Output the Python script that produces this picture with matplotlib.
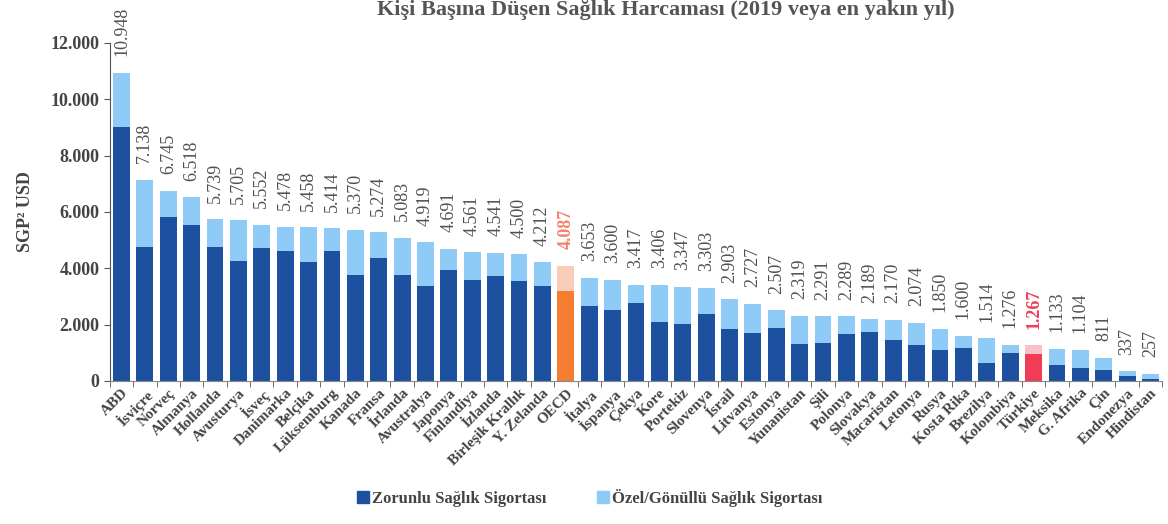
import numpy as np
import matplotlib.pyplot as plt
from matplotlib.patches import Patch

plt.rcParams['font.family'] = ['Liberation Serif', 'DejaVu Serif']

# Ülkeler ve değerler (SGP USD, kişi başına)
ulkeler = ['ABD', 'İsviçre', 'Norveç', 'Almanya', 'Hollanda', 'Avusturya', 'İsveç',
           'Danimarka', 'Belçika', 'Lüksemburg', 'Kanada', 'Fransa', 'İrlanda',
           'Avustralya', 'Japonya', 'Finlandiya', 'İzlanda', 'Birleşik Krallık',
           'Y. Zelanda', 'OECD', 'İtalya', 'İspanya', 'Çekya', 'Kore', 'Portekiz',
           'Slovenya', 'İsrail', 'Litvanya', 'Estonya', 'Yunanistan', 'Şili',
           'Polonya', 'Slovakya', 'Macaristan', 'Letonya', 'Rusya', 'Kosta Rika',
           'Brezilya', 'Kolombiya', 'Türkiye', 'Meksika', 'G. Afrika', 'Çin',
           'Endonezya', 'Hindistan']

toplam = [10948, 7138, 6745, 6518, 5739, 5705, 5552, 5478, 5458, 5414, 5370, 5274,
          5083, 4919, 4691, 4561, 4541, 4500, 4212, 4087, 3653, 3600, 3417, 3406,
          3347, 3303, 2903, 2727, 2507, 2319, 2291, 2289, 2189, 2170, 2074, 1850,
          1600, 1514, 1276, 1267, 1133, 1104, 811, 337, 257]

zorunlu = [9030, 4740, 5820, 5550, 4770, 4270, 4730, 4610, 4240, 4630, 3760, 4370,
           3760, 3380, 3930, 3590, 3720, 3560, 3380, 3180, 2650, 2510, 2770, 2090,
           2020, 2390, 1860, 1710, 1880, 1310, 1330, 1680, 1740, 1460, 1260, 1100,
           1180, 620, 980, 950, 570, 450, 400, 170, 80]

toplam = np.array(toplam)
zorunlu = np.array(zorunlu)
ozel = toplam - zorunlu

# renkler
koyu = ['#1e50a0'] * len(ulkeler)
acik = ['#8ecbf6'] * len(ulkeler)
etiket_renk = ['#505050'] * len(ulkeler)
i_oecd = ulkeler.index('OECD')
i_tr = ulkeler.index('Türkiye')
koyu[i_oecd], acik[i_oecd], etiket_renk[i_oecd] = '#f57d32', '#f9cdb8', '#f4826e'
koyu[i_tr], acik[i_tr], etiket_renk[i_tr] = '#f03c55', '#f8bfc8', '#ee3e5a'

fig = plt.figure(figsize=(11.68, 5.24), dpi=100)
ax = fig.add_axes([0.094, 0.273, 0.901, 0.645])

x = np.arange(len(ulkeler))
ax.bar(x, zorunlu, width=0.72, color=koyu)
ax.bar(x, ozel, width=0.72, bottom=zorunlu, color=acik)

for i, v in enumerate(toplam):
    ax.annotate(f'{v:,}'.replace(',', '.'), (i, v), xytext=(0, 12),
                textcoords='offset points', rotation=90, ha='center', va='bottom',
                fontsize=13, color=etiket_renk[i],
                fontweight='bold' if i in (i_oecd, i_tr) else 'normal')

ax.set_xlim(-0.5, len(ulkeler) - 0.5)
ax.set_ylim(0, 12000)
ax.set_yticks(range(0, 12001, 2000))
ax.set_yticklabels([f'{t:,}'.replace(',', '.') for t in range(0, 12001, 2000)],
                   fontsize=13, fontweight='bold', color='#444444')

ax.set_xticks(x)
ax.set_xticklabels(ulkeler, rotation=45, ha='right', rotation_mode='anchor',
                   fontsize=11, fontweight='bold', color='#444444')
ax.set_xticks(np.arange(-0.5, len(ulkeler)), minor=True)
ax.tick_params(axis='x', which='major', length=0, pad=4)
ax.tick_params(axis='x', which='minor', length=4, color='#555555')
ax.tick_params(axis='y', length=4, color='#555555')

for s in ['top', 'right']:
    ax.spines[s].set_visible(False)
ax.spines['left'].set_color('#555555')
ax.spines['bottom'].set_color('#888888')

ax.set_ylabel('SGP² USD', fontsize=13, fontweight='bold', color='#444444', labelpad=12)

fig.text(0.57, 1.0, 'Kişi Başına Düşen Sağlık Harcaması (2019 veya en yakın yıl)',
         ha='center', va='top', fontsize=16, fontweight='bold', color='#555555')

fig.legend(handles=[Patch(color='#1e50a0', label='Zorunlu Sağlık Sigortası'),
                    Patch(color='#8ecbf6', label='Özel/Gönüllü Sağlık Sigortası')],
           loc='center', bbox_to_anchor=(0.505, 0.05), ncol=2, frameon=False,
           prop={'weight': 'bold', 'size': 12}, handlelength=0.7, handleheight=0.7,
           handletextpad=0.2, columnspacing=3, labelcolor='#444444')

plt.savefig('out.png')
